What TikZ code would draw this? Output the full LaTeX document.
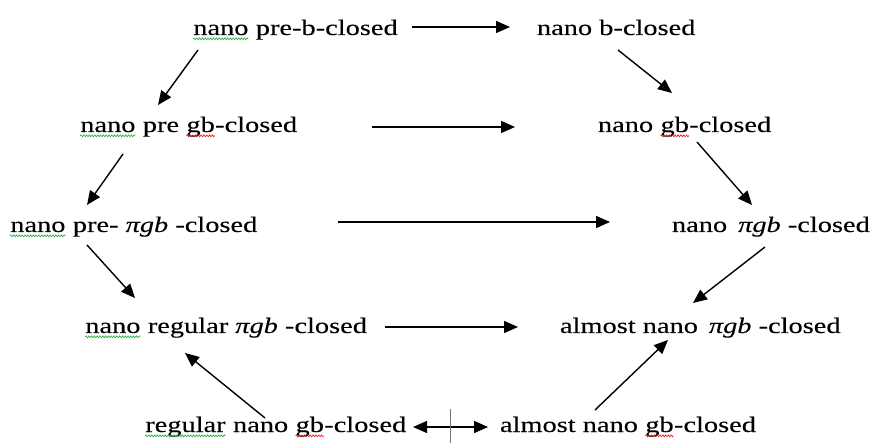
\documentclass[tikz,border=0pt]{standalone}
\usepackage{fontspec}
\setmainfont[FakeStretch=1.29,FakeBold=0.15]{Liberation Serif}
\usetikzlibrary{arrows.meta,decorations.pathmorphing}
\definecolor{gsq}{RGB}{40,170,60}
\definecolor{rsq}{RGB}{225,20,20}
\newcommand\wv[2]{\tikz[baseline=(wvt.base)]{\node[inner sep=0pt,outer sep=0pt,anchor=base] (wvt) {#2};\draw[#1,line width=0.6pt,decorate,decoration={zigzag,segment length=2.8pt,amplitude=1pt}] ([yshift=-3.8pt]wvt.base west) -- ([yshift=-3.8pt]wvt.base east);}}
\begin{document}
\begin{tikzpicture}[x=1pt,y=-1pt,
  lbl/.style={inner sep=0pt,outer sep=0pt,anchor=base west,font=\fontsize{22}{26}\selectfont},
  arr/.style={line width=1.4pt,-{Triangle[length=14pt,width=12pt]}},
  darr/.style={line width=1.4pt,{Triangle[length=14pt,width=12pt]}-{Triangle[length=14pt,width=12pt]}},
  slash/.style={line width=1pt,black!55}]
\useasboundingbox (0,0) rectangle (872,443);
% nodes
\node[lbl] (a1) at (193,35) {\wv{gsq}{nano} pre-b-closed};
\node[lbl] (b1) at (537,35) {nano b-closed};
\node[lbl] (a2) at (80,132) {\wv{gsq}{nano} pre \wv{rsq}{gb}-closed};
\node[lbl] (b2) at (598,132) {nano \wv{rsq}{gb}-closed};
\node[lbl] (a3) at (10,232) {\wv{gsq}{nano} pre- \textit{πgb} -closed};
\node[lbl] (b3) at (672,232) {nano\hspace{11pt}\textit{πgb} -closed};
\node[lbl] (a4) at (85,333) {\wv{gsq}{nano} regular \textit{πgb} -closed};
\node[lbl] (b4) at (560,333) {almost nano\hspace{11pt}\textit{πgb} -closed};
\node[lbl] (a5) at (145,432) {\wv{gsq}{regular} nano \wv{rsq}{gb}-closed};
\node[lbl] (b5) at (500,432) {almost nano \wv{rsq}{gb}-closed};
% connector end points
\coordinate (h1s) at (412,27);  \coordinate (h1e) at (510,27);
\coordinate (h2s) at (372,127); \coordinate (h2e) at (515,127);
\coordinate (h3s) at (338,222); \coordinate (h3e) at (610,222);
\coordinate (h4s) at (385,327); \coordinate (h4e) at (518,327);
\coordinate (h5s) at (413,427); \coordinate (h5e) at (488,427);
\coordinate (v1) at (450,409);  \coordinate (v2) at (450,443);
\coordinate (d1s) at (198,50);  \coordinate (d1e) at (158,105);
\coordinate (d2s) at (618,50);  \coordinate (d2e) at (672,93);
\coordinate (d3s) at (123,154); \coordinate (d3e) at (87,205);
\coordinate (d4s) at (697,142); \coordinate (d4e) at (752,205);
\coordinate (d5s) at (87,245);  \coordinate (d5e) at (135,298);
\coordinate (d6s) at (765,247); \coordinate (d6e) at (693,303);
\coordinate (d7s) at (265,418); \coordinate (d7e) at (185,353);
\coordinate (d8s) at (595,410); \coordinate (d8e) at (668,340);
% connectors
\draw[arr] (h1s) -- (h1e);
\draw[arr] (h2s) -- (h2e);
\draw[arr] (h3s) -- (h3e);
\draw[arr] (h4s) -- (h4e);
\draw[darr] (h5s) -- (h5e);
\draw[slash] (v1) -- (v2);
\draw[arr] (d1s) -- (d1e);
\draw[arr] (d2s) -- (d2e);
\draw[arr] (d3s) -- (d3e);
\draw[arr] (d4s) -- (d4e);
\draw[arr] (d5s) -- (d5e);
\draw[arr] (d6s) -- (d6e);
\draw[arr] (d7s) -- (d7e);
\draw[arr] (d8s) -- (d8e);
\end{tikzpicture}
\end{document}
